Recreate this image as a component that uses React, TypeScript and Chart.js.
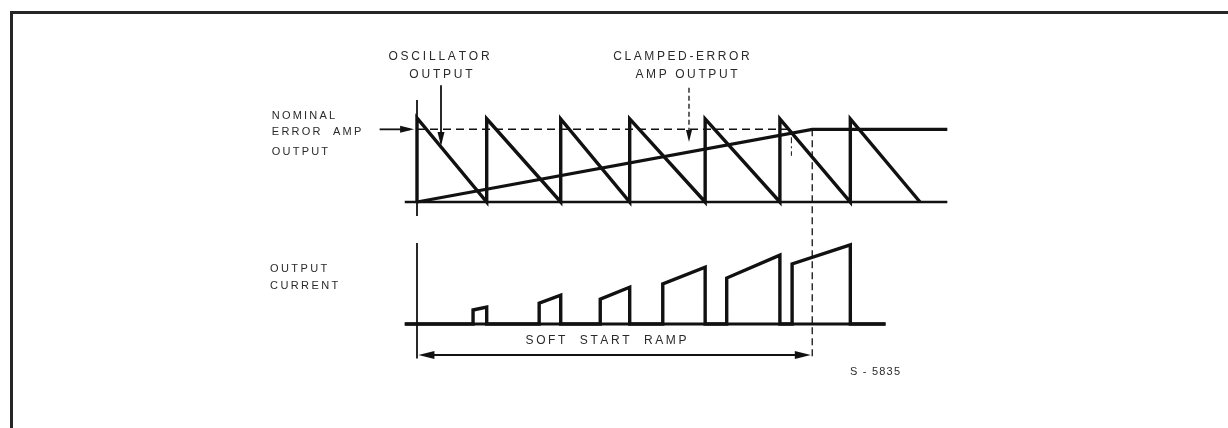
import React, { useEffect, useRef } from "react";
import { Chart, registerables } from "chart.js";

Chart.register(...registerables);

// ---------- data (time in µs, voltages / currents in relative units) ----------
const resetTimes = [0, 9.7, 20, 29.6, 40.1, 50.5, 60.3, 70];
const oscPeaks = [1.0, 0.99, 0.99, 0.99, 0.99, 0.99, 0.99];
const nominalLevel = 0.865;
const clampTime = 55;
const topBaseline = [-1.7, 73.8];
const pulseStart = [7.8, 17.0, 25.5, 34.2, 43.1, 52.2];
const pulseEnd = [9.7, 20.0, 29.6, 40.1, 50.5, 60.3];
const pulseLow = [0.175, 0.26, 0.31, 0.5, 0.575, 0.75];
const pulseHigh = [0.21, 0.36, 0.46, 0.71, 0.86, 0.99];
const lowBaseline = [-1.7, 65.2];

const nominalLabel = ["NOMINAL", "ERROR  AMP", "OUTPUT"];
const oscLabel = ["OSCILLATOR", "OUTPUT"];
const clampLabel = ["CLAMPED-ERROR", "AMP OUTPUT"];
const currentLabel = ["OUTPUT", "CURRENT"];
const rampLabel = "SOFT  START  RAMP";
const figCode = "S - 5835";

// ---------- layout ----------
const W = 1228;
const H = 428;
const X_AXIS_PX = 417;
const X_PX_PER_UNIT = 7.186;
const TOP_BASE_PX = 202;
const TOP_PX_PER_UNIT = 84;
const LOW_BASE_PX = 324;
const LOW_PX_PER_UNIT = 80;

const INK = "#111111";
const TEXT = "#2a2a2a";

function pt(x: number, y: number) {
  return { x, y };
}

export default function App() {
  const ref = useRef<HTMLCanvasElement>(null);

  useEffect(() => {
    const canvas = ref.current!;

    const oscPts: { x: number; y: number }[] = [];
    for (let i = 0; i < oscPeaks.length; i++) {
      oscPts.push(pt(resetTimes[i], 0));
      oscPts.push(pt(resetTimes[i], oscPeaks[i]));
    }
    oscPts.push(pt(resetTimes[resetTimes.length - 1], 0));

    const errPts = [pt(0, 0), pt(clampTime, nominalLevel), pt(topBaseline[1], nominalLevel)];

    const curPts: { x: number; y: number }[] = [pt(lowBaseline[0], 0)];
    for (let i = 0; i < pulseStart.length; i++) {
      curPts.push(pt(pulseStart[i], 0));
      curPts.push(pt(pulseStart[i], pulseLow[i]));
      curPts.push(pt(pulseEnd[i], pulseHigh[i]));
      curPts.push(pt(pulseEnd[i], 0));
    }
    curPts.push(pt(lowBaseline[1], 0));

    const line = (data: any[], yAxisID: string, width: number, dash: number[] = []) => ({
      data,
      yAxisID,
      showLine: true,
      borderColor: INK,
      backgroundColor: INK,
      borderWidth: width,
      borderDash: dash,
      pointRadius: 0,
      pointHoverRadius: 0,
      fill: false,
      tension: 0,
      borderJoinStyle: "miter" as const,
      borderCapStyle: "butt" as const,
    });

    const drawSpaced = (
      ctx: CanvasRenderingContext2D,
      text: string,
      x: number,
      y: number,
      spacing: number,
      align: "left" | "center"
    ) => {
      const chars = Array.from(text);
      const widths = chars.map((c) => ctx.measureText(c).width);
      const total = widths.reduce((a, b) => a + b, 0) + spacing * (chars.length - 1);
      let cx = align === "center" ? x - total / 2 : x;
      ctx.textAlign = "left";
      chars.forEach((c, i) => {
        ctx.fillText(c, cx, y);
        cx += widths[i] + spacing;
      });
    };

    const head = (ctx: CanvasRenderingContext2D, x: number, y: number, ang: number, len: number, half: number) => {
      ctx.save();
      ctx.translate(x, y);
      ctx.rotate(ang);
      ctx.beginPath();
      ctx.moveTo(0, 0);
      ctx.lineTo(-len, -half);
      ctx.lineTo(-len, half);
      ctx.closePath();
      ctx.fillStyle = INK;
      ctx.fill();
      ctx.restore();
    };

    const decor = {
      id: "decor",
      afterDatasetsDraw(chart: any) {
        const ctx: CanvasRenderingContext2D = chart.ctx;
        const sx = chart.scales.x;
        const sy = chart.scales.y;
        const sy2 = chart.scales.y2;
        const px = (v: number) => sx.getPixelForValue(v);
        const pyT = (v: number) => sy.getPixelForValue(v);
        const pyL = (v: number) => sy2.getPixelForValue(v);

        ctx.save();
        // page frame
        ctx.strokeStyle = "#262626";
        ctx.lineWidth = 3;
        ctx.beginPath();
        ctx.moveTo(11.5, H + 5);
        ctx.lineTo(11.5, 12.5);
        ctx.lineTo(W + 5, 12.5);
        ctx.stroke();

        ctx.strokeStyle = INK;
        ctx.fillStyle = INK;

        // oscillator arrow
        ctx.lineWidth = 1.8;
        ctx.setLineDash([]);
        let ax = px(3.34);
        ctx.beginPath();
        ctx.moveTo(ax, pyT(1.39));
        ctx.lineTo(ax, pyT(0.7));
        ctx.stroke();
        head(ctx, ax, pyT(0.667), Math.PI / 2, 14, 3.5);

        // clamped error arrow (dashed)
        ax = px(37.85);
        ctx.lineWidth = 1.3;
        ctx.setLineDash([5, 3]);
        ctx.beginPath();
        ctx.moveTo(ax, pyT(1.36));
        ctx.lineTo(ax, pyT(0.76));
        ctx.stroke();
        ctx.setLineDash([]);
        head(ctx, ax, pyT(0.714), Math.PI / 2, 12, 3);

        // nominal arrow
        ctx.lineWidth = 1.8;
        const ny = pyT(nominalLevel);
        ctx.beginPath();
        ctx.moveTo(px(-5.2), ny);
        ctx.lineTo(px(-1.0), ny);
        ctx.stroke();
        head(ctx, px(-0.4), ny, 0, 14, 3.5);

        // end of soft start marker (dashed, across both panels)
        ctx.lineWidth = 1.3;
        ctx.setLineDash([7, 4]);
        ctx.beginPath();
        ctx.moveTo(px(clampTime), pyT(nominalLevel));
        ctx.lineTo(px(clampTime), pyL(-0.43));
        ctx.stroke();
        ctx.setLineDash([2, 3, 6, 3]);
        ctx.lineWidth = 1;
        ctx.beginPath();
        ctx.moveTo(px(52.1), pyT(0.83));
        ctx.lineTo(px(52.1), pyT(0.55));
        ctx.stroke();
        ctx.setLineDash([]);

        // soft start ramp arrow
        const ry = pyL(-0.3875);
        ctx.lineWidth = 1.8;
        ctx.beginPath();
        ctx.moveTo(px(1.5), ry);
        ctx.lineTo(px(clampTime - 1.5), ry);
        ctx.stroke();
        head(ctx, px(0.2), ry, Math.PI, 16, 4);
        head(ctx, px(clampTime - 0.2), ry, 0, 16, 4);

        // texts
        ctx.fillStyle = TEXT;
        ctx.textBaseline = "middle";
        ctx.font = "11px 'Liberation Sans', Arial, sans-serif";
        const nomY = [1.024, 0.833, 0.595];
        nominalLabel.forEach((s, i) => drawSpaced(ctx, s, px(-20.2), pyT(nomY[i]), 2.2, "left"));
        const curY = [0.6875, 0.475];
        currentLabel.forEach((s, i) => drawSpaced(ctx, s, px(-20.45), pyL(curY[i]), 2.4, "left"));

        ctx.font = "12px 'Liberation Sans', Arial, sans-serif";
        const headY = [1.726, 1.512];
        const oscX = [3.06, 3.34];
        oscLabel.forEach((s, i) => drawSpaced(ctx, s, px(oscX[i]), pyT(headY[i]), 2.8, "center"));
        const clX = [36.8, 37.5];
        clampLabel.forEach((s, i) => drawSpaced(ctx, s, px(clX[i]), pyT(headY[i]), 2.6, "center"));

        ctx.font = "12px 'Liberation Sans', Arial, sans-serif";
        drawSpaced(ctx, rampLabel, px(26.3), pyL(-0.2125), 2.6, "center");

        ctx.font = "11px 'Liberation Sans', Arial, sans-serif";
        drawSpaced(ctx, figCode, px(60.26), pyL(-0.6), 1.2, "left");

        ctx.restore();
      },
    };

    const chart = new Chart(canvas, {
      type: "scatter",
      data: {
        datasets: [
          line([pt(topBaseline[0], 0), pt(topBaseline[1], 0)], "y", 2.5),
          line([pt(0, -0.167), pt(0, 1.214)], "y", 1.8),
          line([pt(0, nominalLevel), pt(clampTime - 3, nominalLevel)], "y", 1.5, [8, 5]),
          line(oscPts, "y", 3.4),
          line(errPts, "y", 3.2),
          line([pt(lowBaseline[0], 0), pt(lowBaseline[1], 0)], "y2", 3),
          line([pt(0, -0.43), pt(0, 1.0125)], "y2", 1.8),
          line(curPts, "y2", 3.4),
        ] as any,
      },
      options: {
        animation: false,
        responsive: false,
        devicePixelRatio: 1,
        layout: { padding: 0 },
        events: [],
        plugins: {
          legend: { display: false },
          title: { display: false },
          tooltip: { enabled: false },
        },
        scales: {
          x: {
            type: "linear",
            display: false,
            min: -X_AXIS_PX / X_PX_PER_UNIT,
            max: (W - X_AXIS_PX) / X_PX_PER_UNIT,
          },
          y: {
            type: "linear",
            display: false,
            min: -(H - TOP_BASE_PX) / TOP_PX_PER_UNIT,
            max: TOP_BASE_PX / TOP_PX_PER_UNIT,
          },
          y2: {
            type: "linear",
            display: false,
            min: -(H - LOW_BASE_PX) / LOW_PX_PER_UNIT,
            max: LOW_BASE_PX / LOW_PX_PER_UNIT,
          },
        },
      },
      plugins: [decor],
    });

    return () => chart.destroy();
  }, []);

  return (
    <div style={{ position: "fixed", left: 0, top: 0, width: W, height: H, background: "#fff" }}>
      <canvas ref={ref} width={W} height={H} style={{ display: "block", width: W, height: H }} />
    </div>
  );
}
